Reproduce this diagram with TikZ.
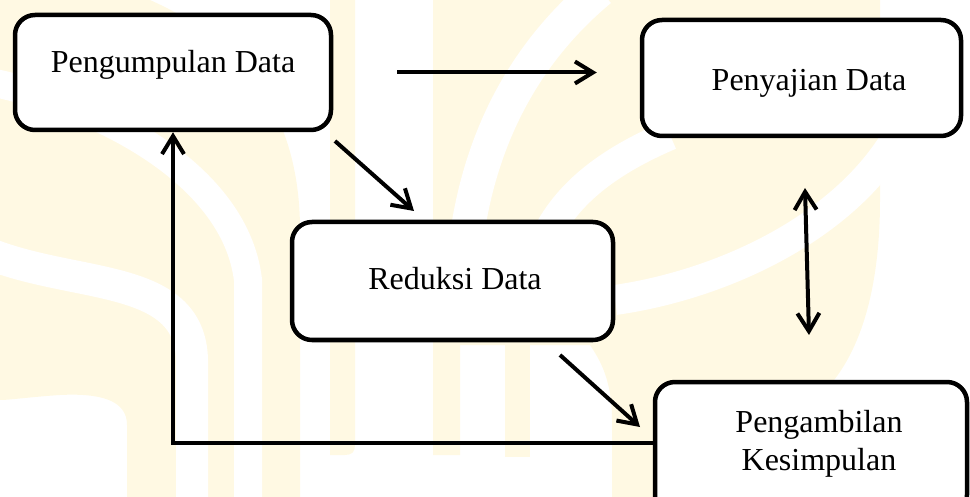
\documentclass[tikz,border=0pt]{standalone}
\usepackage{fontspec}
\setmainfont{Liberation Serif}
\usetikzlibrary{arrows.meta}
\definecolor{wmyellow}{RGB}{255,249,227}
\begin{document}
\begin{tikzpicture}[x=1pt,y=-1pt,
  box/.style={draw=black, line width=4.5pt, rounded corners=20pt, fill=white, inner sep=0pt},
  boxtext/.style={font=\fontsize{32pt}{38pt}\selectfont, anchor=base, inner sep=0pt},
  barb/.tip={Straight Barb[length=18pt,width=22pt]},
  flow/.style={line width=4pt, -barb},
  gap/.style={draw=white, line width=#1},
]
\useasboundingbox (0,0) rectangle (970,497);

% faint background emblem
\begin{scope}
  \clip (0,0) rectangle (970,497);
  \fill[wmyellow] (0,0) -- (150,0) .. controls (240,40) and (300,110) .. (300,230)
     -- (300,497) -- (127,497) -- (127,425) .. controls (127,400) and (100,393) .. (60,395)
     .. controls (30,397) and (10,400) .. (0,400) -- cycle;
  \draw[gap=28pt] (-20,80) .. controls (90,100) and (235,170) .. (248,280) -- (248,520);
  \draw[gap=32pt] (-20,250) .. controls (70,290) and (190,270) .. (192,360) -- (192,520);
  \fill[wmyellow] (330,0) -- (355,0) -- (355,445) .. controls (355,452) and (352,455) .. (345,455)
     -- (330,455) -- cycle;
  \fill[wmyellow] (433,0) -- (880,0) -- (880,200) .. controls (880,290) and (860,350) .. (830,385)
     -- (660,385) -- (660,497) -- (612,497) -- (612,420) .. controls (612,380) and (600,360) .. (590,345)
     -- (460,345) -- (460,455) -- (433,455) -- cycle;
  \fill[wmyellow] (505,345) rectangle (530,457);
  \draw[gap=34pt] (465,250) .. controls (480,120) and (540,40) .. (600,-10);
  \draw[gap=30pt] (670,135) .. controls (600,165) and (560,200) .. (540,250);
  \draw[gap=30pt] (615,300) .. controls (720,285) and (840,230) .. (895,140);
\end{scope}

% process boxes
\node[box, minimum width=316pt, minimum height=115pt] (collect) at (173,72.5) {};
\node[boxtext] (collectText) at (173,73) {Pengumpulan Data};

\node[box, minimum width=319pt, minimum height=116pt] (present) at (801.5,78) {};
\node[boxtext] (presentText) at (809,91) {Penyajian Data};

\node[box, minimum width=321pt, minimum height=118pt] (reduce) at (452.5,281) {};
\node[boxtext] (reduceText) at (455,290) {Reduksi Data};

\node[box, minimum width=312pt, minimum height=133pt] (conclude) at (811,448.5) {};
\node[boxtext, align=center] (concludeText) at (819,470) {Pengambilan\\Kesimpulan};

% free arrow ends
\coordinate (a1s) at (335,141);
\coordinate (a1e) at (414,211);
\coordinate (a2s) at (560,355);
\coordinate (a2e) at (640,427);
\coordinate (v1) at (805,188);
\coordinate (v2) at (809,335);

% connectors
\draw[flow, shorten <=64pt, shorten >=43pt] (collect.east |- 0,72.5) -- (present.west |- 0,72.5);
\draw[flow] (a1s) -- (a1e);
\draw[flow] (a2s) -- (a2e);
\draw[line width=4pt, barb-barb] (v1) -- (v2);
\draw[flow] ([yshift=5.5pt]conclude.west) -| (collect.south);
\end{tikzpicture}
\end{document}
